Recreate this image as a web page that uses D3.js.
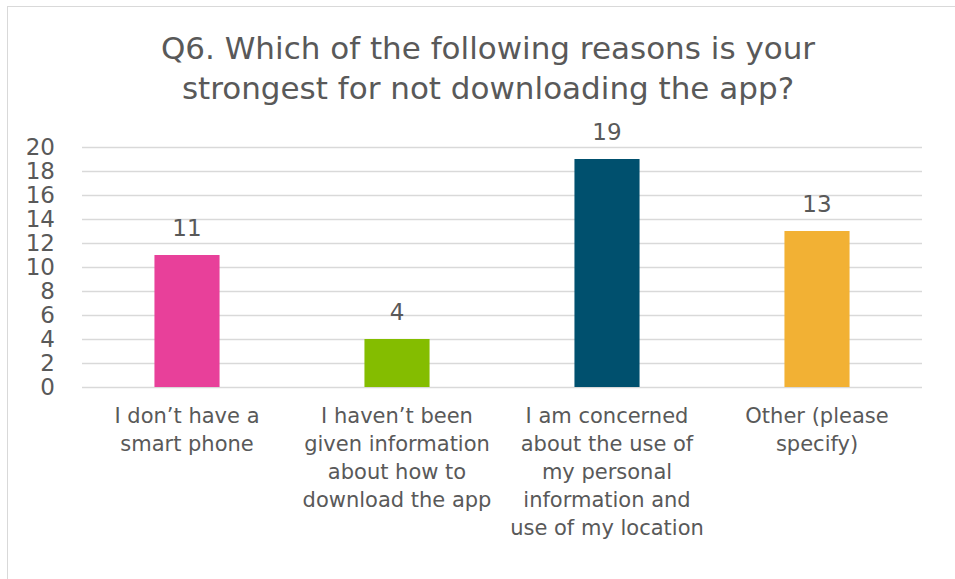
<!DOCTYPE html>
<html><head><meta charset="utf-8">
<script src="https://cdn.jsdelivr.net/npm/d3@7"></script>
<style>
body{margin:0;background:#fff;}
svg{display:block;}
text{font-family:"DejaVu Sans",sans-serif;fill:#595959;}
</style></head>
<body>
<svg id="chart" width="955" height="579"></svg>
<script>
const titleLines = ["Q6. Which of the following reasons is your", "strongest for not downloading the app?"];
const categories = [
  ["I don\u2019t have a", "smart phone"],
  ["I haven\u2019t been", "given information", "about how to", "download the app"],
  ["I am concerned", "about the use of", "my personal", "information and", "use of my location"],
  ["Other (please", "specify)"]
];
const values = [11, 4, 19, 13];
const colors = ["#e8409a", "#84bd00", "#00506e", "#f2b134"];
const yTicks = [0, 2, 4, 6, 8, 10, 12, 14, 16, 18, 20];

(function () {
const svg = d3.select("#chart");
svg.append("rect").attr("x", 7.5).attr("y", 6.5).attr("width", 960).attr("height", 600)
  .attr("fill", "none").attr("stroke", "#d9d9d9").attr("stroke-width", 1);

const mLeft = 82, mRight = 922, mTop = 147, mBottom = 387;
const ids = categories.map((c, i) => i);
const x = d3.scaleBand().domain(ids).range([mLeft, mRight]).paddingInner(0.69).paddingOuter(0.345);
const y = d3.scaleLinear().domain([0, 20]).range([mBottom, mTop]);

svg.append("g").selectAll("text").data(titleLines).join("text")
  .attr("x", 488).attr("y", (d, i) => 48 + i * 40)
  .attr("text-anchor", "middle").attr("dominant-baseline", "central")
  .attr("font-size", 31).text(d => d);

const yAxis = d3.axisLeft(y).tickValues(yTicks).tickSize(-(mRight - mLeft)).tickPadding(27);
const ga = svg.append("g").attr("transform", `translate(${mLeft},0)`).call(yAxis);
ga.select(".domain").remove();
ga.selectAll(".tick line").attr("stroke", "#d9d9d9").attr("stroke-width", 1.5);
ga.selectAll(".tick text").attr("font-size", 23).attr("fill", "#595959")
  .style("font-family", "'DejaVu Sans', sans-serif");

svg.append("g").selectAll("rect").data(values).join("rect")
  .attr("x", (d, i) => x(i)).attr("width", x.bandwidth())
  .attr("y", d => y(d)).attr("height", d => y(0) - y(d))
  .attr("fill", (d, i) => colors[i]);

svg.append("g").selectAll("text").data(values).join("text")
  .attr("x", (d, i) => x(i) + x.bandwidth() / 2).attr("y", d => y(d) - 27)
  .attr("text-anchor", "middle").attr("dominant-baseline", "central")
  .attr("font-size", 23).text(d => d);

const cg = svg.append("g").selectAll("g").data(categories).join("g")
  .attr("transform", (d, i) => `translate(${x(i) + x.bandwidth() / 2},0)`);
cg.selectAll("text").data(d => d).join("text")
  .attr("x", 0).attr("y", (d, j) => 416 + j * 28)
  .attr("text-anchor", "middle").attr("dominant-baseline", "central")
  .attr("font-size", 21).text(d => d);
})();
</script>
</body></html>
